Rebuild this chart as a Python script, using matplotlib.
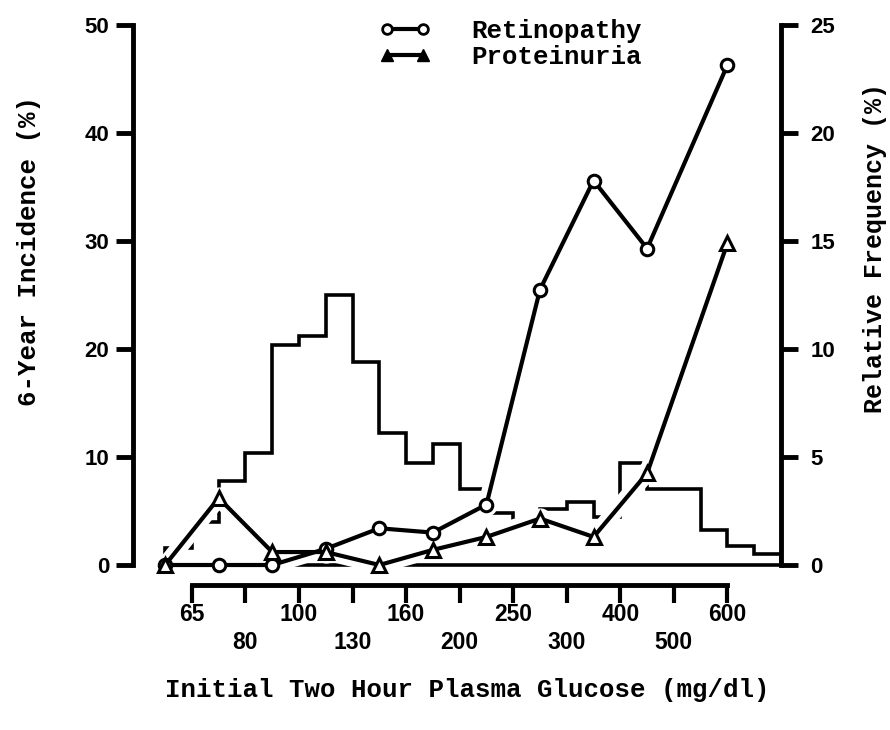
import matplotlib.pyplot as plt
from matplotlib.lines import Line2D

# glucose class boundaries on the lower axis (one tick per class index)
glucose_ticks = [65, 80, 100, 130, 160, 200, 250, 300, 400, 500, 600]

# incidence points, plotted between class boundaries (class index units)
class_pos = [-0.5, 0.5, 1.5, 2.5, 3.5, 4.5, 5.5, 6.5, 7.5, 8.5, 10.0]
retinopathy = [0, 0, 0, 1.5, 3.4, 3.0, 5.6, 25.5, 35.6, 29.3, 46.3]
proteinuria = [0, 6.2, 1.2, 1.2, 0, 1.4, 2.6, 4.3, 2.6, 8.5, 29.8]

# relative frequency of the initial glucose values, half-class bins
freq_edges = [-0.5, 0.0, 0.5, 1.0, 1.5, 2.0, 2.5, 3.0, 3.5, 4.0, 4.5, 5.0,
              5.5, 6.0, 6.5, 7.0, 7.5, 8.0, 8.5, 9.0, 9.5, 10.0, 10.5, 11.0]
freq_values = [0.8, 2.0, 3.9, 5.2, 10.2, 10.6, 12.5, 9.4, 6.1, 4.7, 5.6,
               3.5, 2.4, 2.1, 2.6, 2.9, 2.2, 4.7, 3.5, 3.5, 1.6, 0.9, 0.5]

MONO = 'Liberation Mono'
plt.rcParams['font.family'] = 'Liberation Sans'
plt.rcParams['font.weight'] = 'bold'

W, H = 890, 730
fig = plt.figure(figsize=(W / 100, H / 100), dpi=100)
ax = fig.add_axes([133 / W, 165 / H, 648 / W, 540 / H])
ax_r = ax.twinx()
# incidence lines on top of the histogram
ax.set_zorder(ax_r.get_zorder() + 1)
ax.patch.set_visible(False)

ax.set_xlim(-1.1, 11.0)
ax.set_ylim(0, 50)
ax_r.set_ylim(0, 25)

# histogram outline (right axis)
ax_r.stairs(freq_values, freq_edges, color='black', lw=2.6, clip_on=False)
ax_r.hlines(0, freq_edges[0], freq_edges[-1], color='black', lw=2.6,
            clip_on=False)

# white halos so the lines break the histogram where they cross it
for series in (retinopathy, proteinuria):
    ax.plot(class_pos, series, color='white', lw=12, marker='o', ms=16,
            mew=0, solid_capstyle='round', zorder=2, clip_on=False)

ax.plot(class_pos, retinopathy, color='black', lw=3, marker='o', ms=9,
        mfc='white', mec='black', mew=2.2, zorder=4, clip_on=False)
ax.plot(class_pos, proteinuria, color='black', lw=3, marker='^', ms=10,
        mfc='white', mec='black', mew=2.2, zorder=4, clip_on=False)

# axes frame
for a in (ax, ax_r):
    for side in ('top', 'bottom'):
        a.spines[side].set_visible(False)
    a.set_xticks([])
ax.spines['right'].set_visible(False)
ax_r.spines['left'].set_visible(False)
ax.spines['left'].set_linewidth(3.5)
ax.spines['left'].set_bounds(0, 50)
ax_r.spines['right'].set_linewidth(3.5)
ax_r.spines['right'].set_bounds(0, 25)

ax.set_yticks([0, 10, 20, 30, 40, 50])
ax.tick_params(axis='y', direction='out', length=12, width=3.5,
               labelsize=16, pad=5)
ax_r.set_yticks([0, 5, 10, 15, 20, 25])
ax_r.tick_params(axis='y', direction='out', length=12, width=3.5,
                 labelsize=16, pad=9)

# separate glucose scale below the plot, labels on two rows
sec = ax.secondary_xaxis(-0.037)
labels = [str(g) if i % 2 == 0 else '\n' + str(g)
          for i, g in enumerate(glucose_ticks)]
sec.set_xticks(range(len(glucose_ticks)), labels=labels)
sec.spines['bottom'].set_linewidth(3.5)
sec.spines['bottom'].set_bounds(0, len(glucose_ticks) - 1)
sec.tick_params(direction='out', length=13, width=3, labelsize=16.5, pad=0)
for lab in sec.get_xticklabels():
    lab.set_linespacing(1.25)

# axis titles
fig.text(467 / W, 1 - 690 / H, 'Initial Two Hour Plasma Glucose (mg/dl)',
         ha='center', va='center', family=MONO, fontsize=18.5)
fig.text(29 / W, 1 - 251 / H, '6-Year Incidence (%)', rotation=90,
         ha='center', va='center', family=MONO, fontsize=18.5)
fig.text(875 / W, 1 - 248 / H, 'Relative Frequency (%)', rotation=90,
         ha='center', va='center', family=MONO, fontsize=18)

handles = [
    Line2D([], [], color='black', lw=3, marker='o', ms=7, mfc='white',
           mec='black', mew=2),
    Line2D([], [], color='black', lw=3, marker='^', ms=8, mfc='black',
           mec='black'),
]
ax.legend(handles, ['Retinopathy', 'Proteinuria'], loc='upper left',
          bbox_to_anchor=(366 / W, 1 - 6 / H), bbox_transform=fig.transFigure,
          frameon=False, numpoints=2, handlelength=2.0, handletextpad=1.6,
          labelspacing=0.1, borderpad=0,
          prop={'family': MONO, 'size': 18.5, 'weight': 'bold'})

fig.savefig('out.png', dpi=100, facecolor='white')
